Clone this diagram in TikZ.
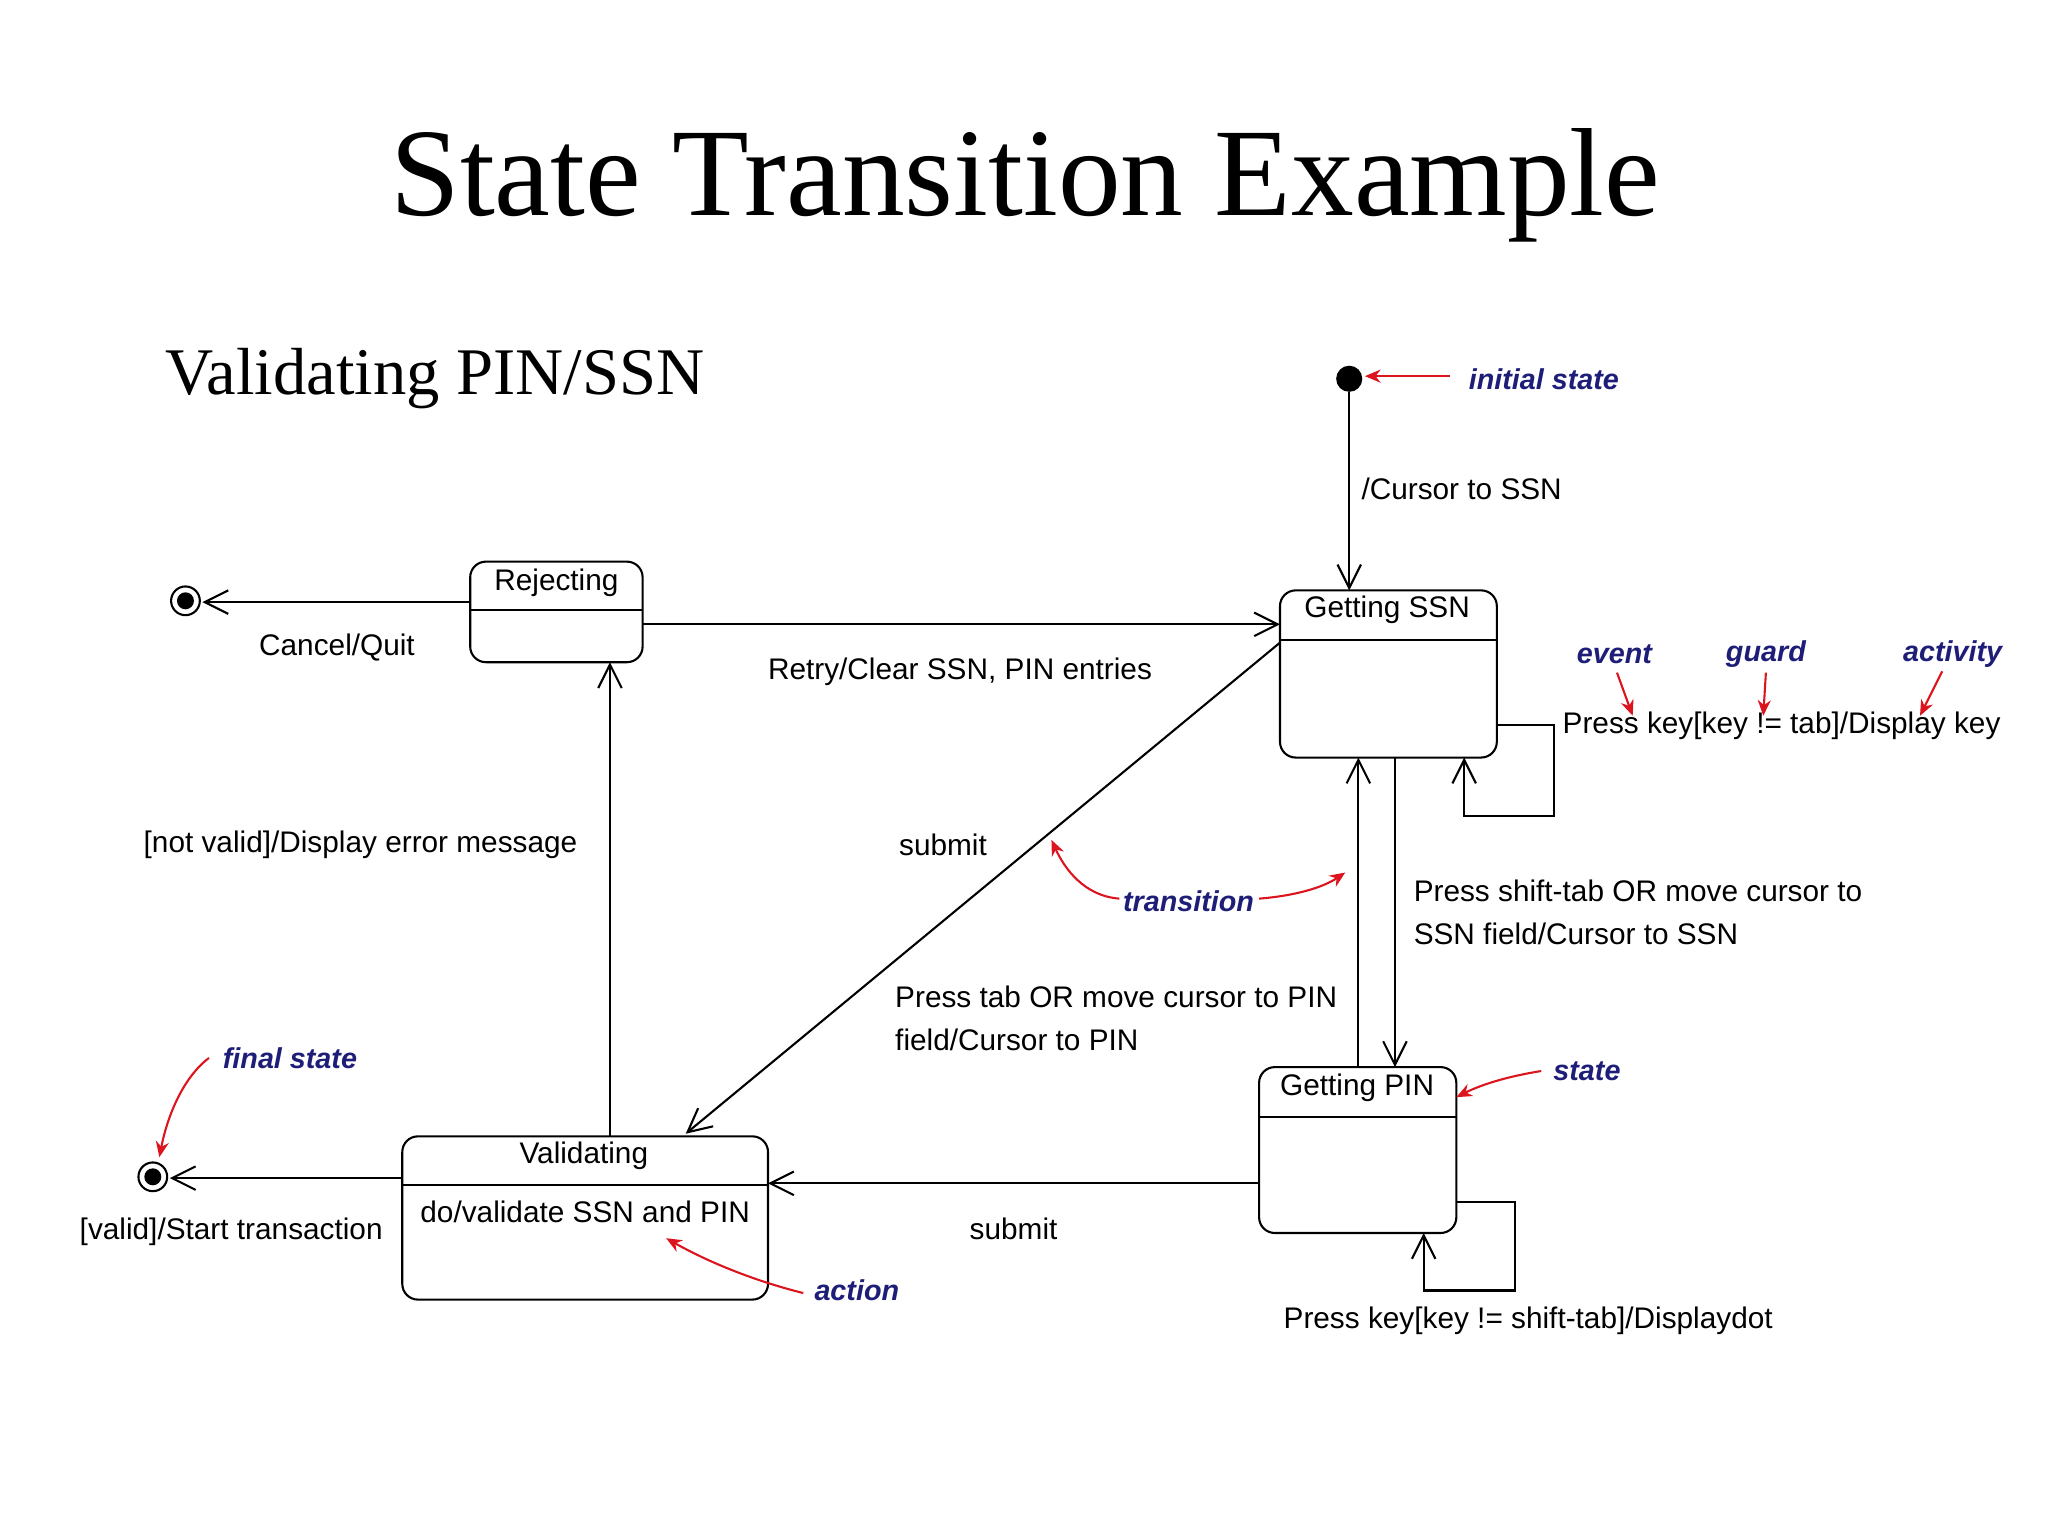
\documentclass[tikz,border=0pt]{standalone}
\usepackage{fontspec}
\setmainfont{Liberation Serif}
\newfontfamily\sansf{Liberation Sans}
\usetikzlibrary{arrows.meta}
\begin{document}
\begin{tikzpicture}[x=0.5pt,y=-0.5pt,
  st/.style={draw,rounded corners=6pt,line width=0.8pt},
  tr/.style={line width=0.8pt,-{Straight Barb[length=9pt,width=9pt]}},
  lb/.style={font=\sansf\fontsize{11.4}{14}\selectfont,inner sep=0pt},
  ann/.style={font=\sansf\bfseries\itshape\fontsize{11}{13}\selectfont,text={rgb,255:red,30;green,30;blue,120},inner sep=0pt},
  ra/.style={draw={rgb,255:red,220;green,20;blue,30},line width=0.8pt,-{Stealth[length=6pt,width=5pt]}}]
\useasboundingbox (0,0) rectangle (1568,1176);
\node[font=\fontsize{48}{56}\selectfont] (title) at (785,142) {State Transition Example};
\node[font=\fontsize{25.5}{30}\selectfont,anchor=west] (sub) at (120,290) {Validating PIN/SSN};
% states
\draw[st] (980,452) rectangle (1146,580); \draw[line width=0.8pt] (980,490)--(1146,490);
\node[lb] (ssnt) at (1062,467) {Getting SSN};
\draw[st] (360,430) rectangle (492,507); \draw[line width=0.8pt] (360,467)--(492,467);
\node[lb] (rejt) at (426,446) {Rejecting};
\draw[st] (308,870) rectangle (588,995); \draw[line width=0.8pt] (308,907)--(588,907);
\node[lb] (valt) at (447,885) {Validating};
\node[lb] (valdo) at (448,928) {do/validate SSN and PIN};
\draw[st] (964,817) rectangle (1115,944); \draw[line width=0.8pt] (964,855)--(1115,855);
\node[lb] (pint) at (1039,833) {Getting PIN};
% pseudo states
\fill (1033,290) circle (10);
\coordinate (init) at (1033,300);
\draw[line width=0.8pt] (142,460) circle (11); \fill (142,460) circle (6.5);
\draw[line width=0.8pt] (117,901) circle (11); \fill (117,901) circle (6.5);
% transitions
\draw[tr] (init) -- (1033,452);
\node[lb,anchor=west] (l1) at (1042,374) {/Cursor to SSN};
\draw[tr] (360,461) -- (155,461);
\node[lb] (l2) at (258,496) {Cancel/Quit};
\draw[tr] (492,478) -- (980,478);
\node[lb] (l3) at (735,514) {Retry/Clear SSN, PIN entries};
\draw[tr] (467,870) -- (467,507);
\node[lb] (l4) at (276,647) {[not valid]/Display error message};
\draw[tr] (980,492) -- (525,868);
\node[lb] (l5) at (722,647) {submit};
\draw[tr] (1040,817) -- (1040,580);
\node[lb,anchor=west] (l6a) at (685,763) {Press tab OR move cursor to PIN};
\node[lb,anchor=west] (l6b) at (685,796) {field/Cursor to PIN};
\draw[tr] (1068,580) -- (1068,817);
\node[lb,anchor=west] (l7a) at (1082,682) {Press shift-tab OR move cursor to};
\node[lb,anchor=west] (l7b) at (1082,715) {SSN field/Cursor to SSN};
\draw[tr] (964,906) -- (588,906);
\node[lb] (l8) at (776,941) {submit};
\draw[tr] (308,902) -- (130,902);
\node[lb] (l9) at (177,943) {[valid]/Start transaction};
\draw[tr] (1146,555) -- (1190,555) -- (1190,625) -- (1121,625) -- (1121,580);
\node[lb,anchor=west] (l10) at (1196,556) {Press key[key != tab]/Display key};
\draw[tr] (1115,920) -- (1160,920) -- (1160,988) -- (1090,988) -- (1090,944);
\node[lb] (l11) at (1170,1011) {Press key[key != shift-tab]/Displaydot};
% annotations
\node[ann] (a1) at (1182,290) {initial state};
\draw[ra] (1110,288) -- (1045,288);
\node[ann] (a2) at (1236,501) {event};
\draw[ra] (1238,515) -- (1250,548);
\node[ann] (a3) at (1352,501) {guard};
\draw[ra] (1352,515) -- (1350,548);
\node[ann] (a4) at (1495,501) {activity};
\draw[ra] (1487,514) -- (1470,548);
\node[ann] (a5) at (910,690) {transition};
\draw[ra] (857,688) .. controls (830,686) and (815,665) .. (805,643);
\draw[ra] (964,688) .. controls (990,686) and (1012,680) .. (1030,668);
\node[ann] (a6) at (222,810) {final state};
\draw[ra] (160,810) .. controls (140,825) and (128,855) .. (122,886);
\node[ann] (a7) at (1215,820) {state};
\draw[ra] (1180,820) .. controls (1155,824) and (1135,830) .. (1115,840);
\node[ann] (a8) at (656,988) {action};
\draw[ra] (615,990) .. controls (575,980) and (540,965) .. (510,948);
\end{tikzpicture}
\end{document}
